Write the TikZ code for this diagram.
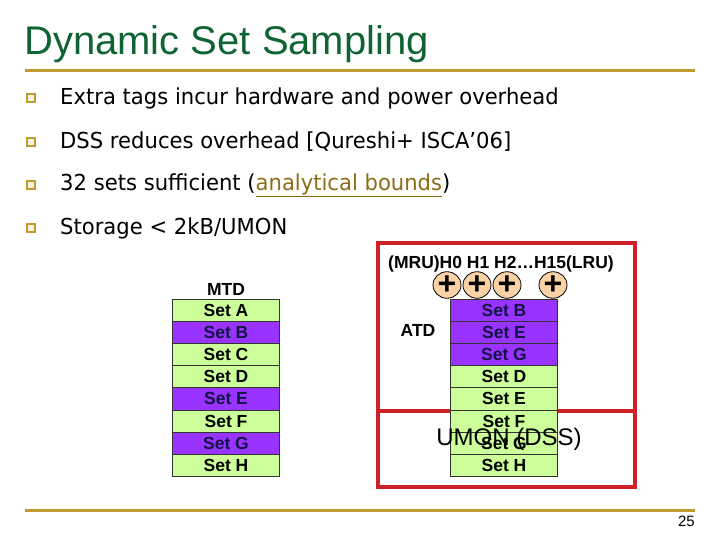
\documentclass[tikz,border=0pt]{standalone}
\usepackage{fontspec}
\setmainfont{Liberation Sans}
\newfontfamily\bodyfont[FakeStretch=0.96]{DejaVu Sans}
\usetikzlibrary{positioning}
\definecolor{TitleGreen}{RGB}{16,100,52}
\definecolor{RuleGold}{RGB}{191,155,48}
\definecolor{LinkGold}{RGB}{140,108,20}
\definecolor{BoxRed}{RGB}{208,32,42}
\definecolor{SetGreen}{RGB}{204,255,153}
\definecolor{SetPurple}{RGB}{153,51,255}
\definecolor{SetInk}{RGB}{20,20,70}
\definecolor{Peach}{RGB}{250,210,165}
\tikzset{
    goldrule/.style={RuleGold, line width=3pt},
    bulletbox/.style={draw=RuleGold, fill=RuleGold!15, line width=1.2pt,
        minimum size=8pt, inner sep=0pt},
    bullettext/.style={anchor=west, inner sep=0pt,
        font=\bodyfont\fontsize{22}{26}\selectfont},
    setcell/.style={draw=black!80, line width=0.8pt, minimum width=107pt,
        minimum height=22.2pt, inner sep=0pt, outer sep=0pt,
        font=\bfseries\fontsize{17.5}{20}\selectfont},
    greencell/.style={setcell, fill=SetGreen},
    purplecell/.style={setcell, fill=SetPurple, text=SetInk},
    hitcounter/.style={ellipse, draw=black, fill=Peach, line width=0.8pt,
        minimum width=28pt, minimum height=25pt, inner sep=0pt,
        font=\bfseries\fontsize{32}{32}\selectfont},
    boldlabel/.style={font=\bfseries\fontsize{17.5}{20}\selectfont, inner sep=0pt},
}
\usetikzlibrary{shapes.geometric}
\begin{document}
\begin{tikzpicture}[x=1pt, y=-1pt]
\useasboundingbox (0,0) rectangle (720,540);

% title and rules
\node[anchor=base west, inner sep=0pt, text=TitleGreen,
    font=\fontsize{40}{48}\selectfont] (title) at (24,55) {Dynamic Set Sampling};
\draw[goldrule] (25,71) -- (695,71);
\draw[goldrule] (25,510) -- (695,510);
\node[anchor=base east, inner sep=0pt, font=\fontsize{15}{18}\selectfont]
    (pagenum) at (695,526) {25};

% bullets
\foreach \y/\txt [count=\i] in {98/{Extra tags incur hardware and power overhead},
    142/{DSS reduces overhead [Qureshi+ ISCA’06]},
    185/{32 sets sufficient ({\color{LinkGold}\underline{analytical bounds}})},
    228/{Storage < 2kB/UMON}} {
    \node[bulletbox] (bul-\i) at (31,\y) {};
    \node[bullettext] (item-\i) at (60,\y) {\txt};
}

% main tag directory
\node[boldlabel] (mtd) at (226,289) {MTD};
\foreach \name/\kind [count=\i from 0] in {A/greencell, B/purplecell, C/greencell,
    D/greencell, E/purplecell, F/greencell, G/purplecell, H/greencell}
    \node[\kind] (mtd-\i) at (226,{310+22.2*\i}) {Set \name};

% UMON box
\draw[BoxRed, line width=4pt] (378,243) rectangle (635,487);
\draw[BoxRed, line width=4pt] (378,411) -- (635,411);

\node[boldlabel] (lru) at (501,264) {(MRU)H0 H1 H2\ldots H15(LRU)};
\foreach \x [count=\i] in {447,477,507,553}
    \node[hitcounter] (hit-\i) at (\x,285) {+};

\node[boldlabel] (atd) at (418,330) {ATD};
\foreach \name/\kind [count=\i from 0] in {B/purplecell, E/purplecell, G/purplecell,
    D/greencell, E/greencell, F/greencell, G/greencell, H/greencell}
    \node[\kind] (atd-\i) at (504,{310+22.2*\i}) {Set \name};

\node[inner sep=0pt, font=\fontsize{24}{28}\selectfont] (umon) at (509,439)
    {UMON (DSS)};
\end{tikzpicture}
\end{document}
